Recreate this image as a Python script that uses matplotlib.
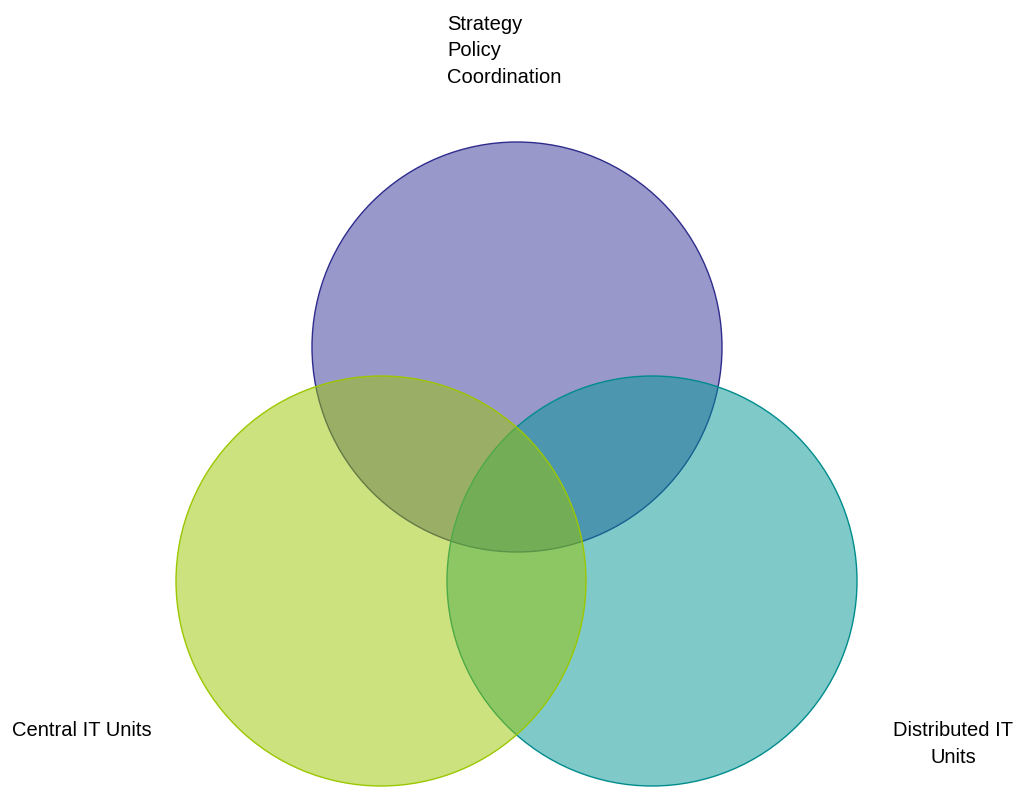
#!/usr/bin/env python3
"""Three-circle venn diagram: IT governance roles."""

import matplotlib.pyplot as plt
from matplotlib.colors import to_rgba
from matplotlib.patches import Circle


# circle centres / radius in pixel coordinates of the 1018x787 canvas
CIRCLE_NAMES = ['top', 'right', 'left']
CIRCLE_X = [517, 652, 381]
CIRCLE_Y = [347, 581, 581]
CIRCLE_R = [205, 205, 205]
FACE_COLORS = ['#353399', '#009595', '#9bc700']
EDGE_COLORS = ['#2e2c8c', '#008c8c', '#9bc700']

LABELS = ['Strategy\nPolicy\nCoordination', 'Central IT Units', 'Distributed IT\nUnits']
LABEL_X = [447, 12, 953]
LABEL_Y = [83, 736, 763]
LABEL_HA = ['left', 'left', 'center']

FONT = ['Liberation Sans', 'DejaVu Sans']


def main() -> None:
    fig = plt.figure(figsize=(10.18, 7.87), dpi=100)
    ax = fig.add_axes([0, 0, 1, 1])
    ax.set_xlim(0, 1018)
    ax.set_ylim(787, 0)
    ax.set_aspect('equal')
    ax.axis('off')

    for x, y, r, fc, ec in zip(CIRCLE_X, CIRCLE_Y, CIRCLE_R, FACE_COLORS, EDGE_COLORS):
        ax.add_patch(Circle((x, y), r, facecolor=to_rgba(fc, 0.5),
                            edgecolor=ec, linewidth=1.0))

    for text, x, y, ha in zip(LABELS, LABEL_X, LABEL_Y, LABEL_HA):
        ax.text(x, y, text, ha=ha, va='baseline', multialignment=ha,
                fontsize=14.5, family=FONT, color='#000000', linespacing=1.5)

    fig.savefig('out.png', dpi=100)


if __name__ == '__main__':
    main()
